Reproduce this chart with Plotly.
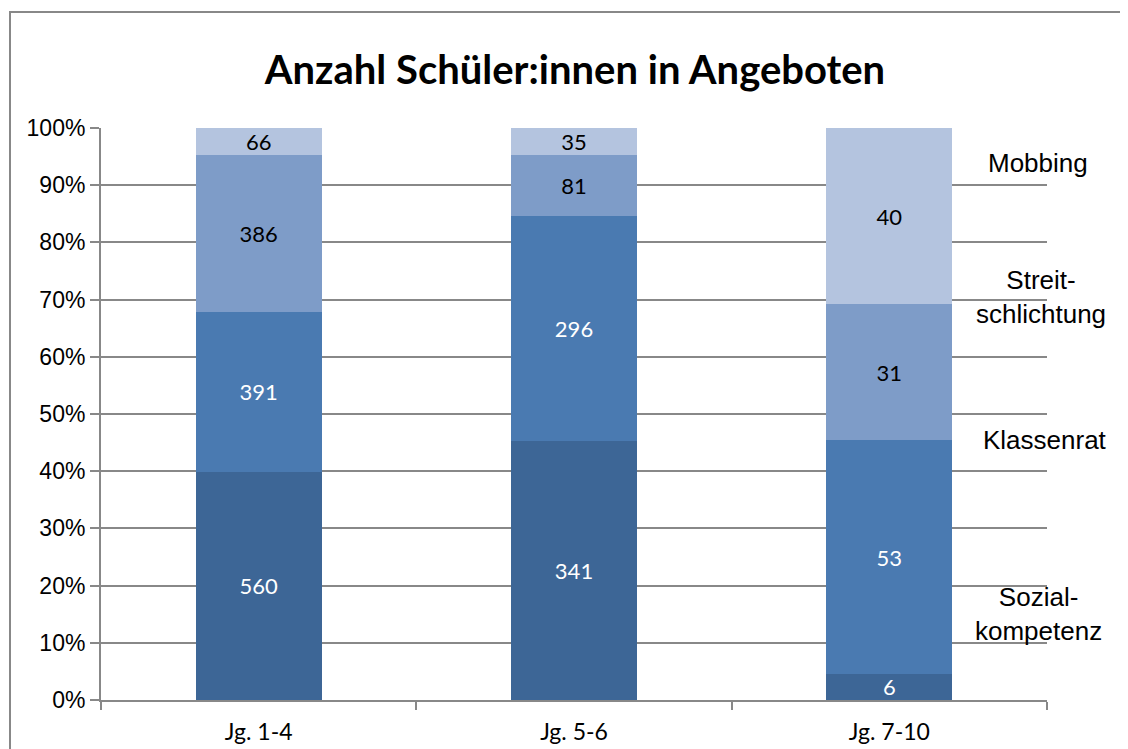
import plotly.graph_objects as go

categories = ["Jg. 1-4", "Jg. 5-6", "Jg. 7-10"]
series_names = ["Sozialkompetenz", "Klassenrat", "Streitschlichtung", "Mobbing"]
sozialkompetenz = [560, 341, 6]
klassenrat = [391, 296, 53]
streitschlichtung = [386, 81, 31]
mobbing = [66, 35, 40]
y_ticks = [0, 10, 20, 30, 40, 50, 60, 70, 80, 90, 100]
y_tick_labels = [f"{v}%" for v in y_ticks]

series = [sozialkompetenz, klassenrat, streitschlichtung, mobbing]
colors = ["#3D6696", "#4A7AB1", "#7E9CC8", "#B4C4DF"]
text_colors = ["white", "white", "black", "black"]
label_font = "Lato, 'Open Sans', sans-serif"
arial = "'Liberation Sans', Arial, sans-serif"

fig = go.Figure()
for name, vals, col, tcol in zip(series_names, series, colors, text_colors):
    fig.add_trace(go.Bar(
        x=categories, y=vals, name=name,
        marker=dict(color=col, line=dict(width=0)),
        text=[str(v) for v in vals],
        textposition="inside", insidetextanchor="middle", textangle=0,
        textfont=dict(family=label_font, size=22, color=tcol),
        width=0.4,
    ))

OFF = 8  # page body margin
W, H = 1120, 741
L, T = 101 - OFF, 128 - OFF
R = W - (1047 - OFF)
B = H - (700 - OFF)
pw, ph = W - L - R, H - T - B

def px(x):  # screen x -> paper
    return (x - OFF - L) / pw

def py(y):  # screen y -> paper
    return (H - B - (y - OFF)) / ph

fig.update_layout(
    width=W, height=H,
    margin=dict(l=L, r=R, t=T, b=B, autoexpand=False),
    barmode="stack", barnorm="percent",
    showlegend=False,
    plot_bgcolor="white", paper_bgcolor="white",
    uniformtext=dict(minsize=22, mode="show"),
    title=dict(text="<b>Anzahl Schüler:innen in Angeboten</b>",
               x=px(575), xref="paper", xanchor="center",
               y=1 - (70 - OFF) / H, yanchor="middle",
               font=dict(family=label_font, size=40, color="black")),
    xaxis=dict(showline=True, linecolor="#888888", linewidth=2,
               tickson="boundaries", ticks="outside", ticklen=8,
               tickcolor="#888888", tickwidth=2, automargin=False,
               tickfont=dict(family=label_font, size=23, color="black"),
               ticklabelstandoff=10),
    yaxis=dict(range=[0, 100], tickvals=y_ticks, ticktext=y_tick_labels,
               showgrid=True, gridcolor="#888888", gridwidth=2,
               showline=True, linecolor="#888888", linewidth=2,
               ticks="outside", ticklen=9, tickcolor="#888888", tickwidth=2,
               automargin=False,
               tickfont=dict(family=arial, size=23, color="black"),
               zeroline=False),
)

# chart border
fig.add_shape(type="rect", xref="paper", yref="paper",
              x0=px(10), x1=px(1140), y0=py(760), y1=py(12),
              line=dict(color="#888888", width=2), fillcolor="rgba(0,0,0,0)",
              layer="below")

ann = [("Mobbing", 1038, 163), ("Streit-<br>schlichtung", 1041, 297),
       ("Klassenrat", 1045, 440), ("Sozial-<br>kompetenz", 1038, 614)]
for t, x, y in ann:
    fig.add_annotation(text=t, xref="paper", yref="paper", x=px(x), y=py(y),
                       xanchor="center", yanchor="middle", showarrow=False,
                       font=dict(family=arial, size=26, color="black"))

fig.write_html("out.html")
